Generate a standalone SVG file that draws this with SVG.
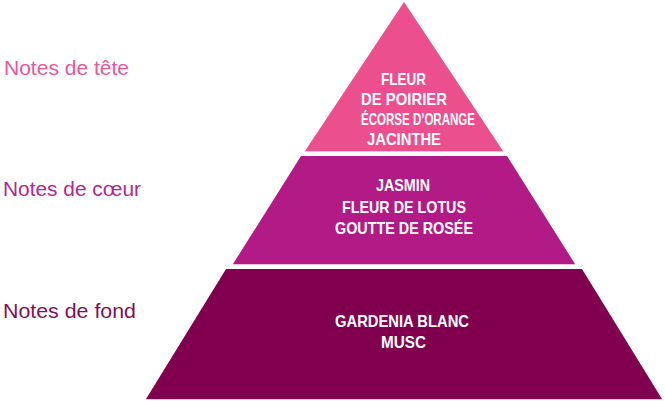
<svg xmlns="http://www.w3.org/2000/svg" width="665" height="401" viewBox="0 0 665 401">
<style>
.lbl{font-family:"Liberation Sans",Arial,sans-serif;font-size:21px}
.t{font-family:"Liberation Sans",Arial,sans-serif;font-size:17px;font-weight:bold;fill:#ffffff}
.edge{stroke:#f2c4dc;stroke-width:1;fill:none}
</style>
<rect width="665" height="401" fill="#ffffff"/>
<g id="label-tete"><text class="lbl" x="4" y="75" fill="#e9579a" textLength="125" lengthAdjust="spacingAndGlyphs">Notes de tête</text></g>
<g id="label-coeur"><text class="lbl" x="3" y="196" fill="#b0288c" textLength="138" lengthAdjust="spacingAndGlyphs">Notes de cœur</text></g>
<g id="label-fond"><text class="lbl" x="3" y="318" fill="#7d1157" textLength="133" lengthAdjust="spacingAndGlyphs">Notes de fond</text></g>

<g id="tier-tete">
<polygon points="404,2 503,151 305,151" fill="#ec4f8e"/>
<line class="edge" x1="305" y1="151.5" x2="503" y2="151.5"/>
<text class="t" x="381" y="85" textLength="45" lengthAdjust="spacingAndGlyphs">FLEUR</text>
<text class="t" x="361" y="105" textLength="86" lengthAdjust="spacingAndGlyphs">DE POIRIER</text>
<text class="t" x="361" y="125" textLength="114" lengthAdjust="spacingAndGlyphs">ÉCORSE D’ORANGE</text>
<text class="t" x="367" y="145" textLength="74" lengthAdjust="spacingAndGlyphs">JACINTHE</text>
</g>

<g id="tier-coeur">
<polygon points="301,156 507,156 575,264 233,264" fill="#b21b86"/>
<line class="edge" x1="233" y1="264.5" x2="575" y2="264.5"/>
<text class="t" x="376" y="191" textLength="54" lengthAdjust="spacingAndGlyphs">JASMIN</text>
<text class="t" x="342" y="213" textLength="124" lengthAdjust="spacingAndGlyphs">FLEUR DE LOTUS</text>
<text class="t" x="335" y="234" textLength="138" lengthAdjust="spacingAndGlyphs">GOUTTE DE ROSÉE</text>
</g>

<g id="tier-fond">
<polygon points="226,269 582,269 662,399 146,399" fill="#80004f"/>
<line class="edge" x1="146" y1="399.5" x2="662" y2="399.5"/>
<text class="t" x="335" y="327" textLength="134" lengthAdjust="spacingAndGlyphs">GARDENIA BLANC</text>
<text class="t" x="381" y="348" textLength="45" lengthAdjust="spacingAndGlyphs">MUSC</text>
</g>

<g id="connectors"></g>
</svg>
